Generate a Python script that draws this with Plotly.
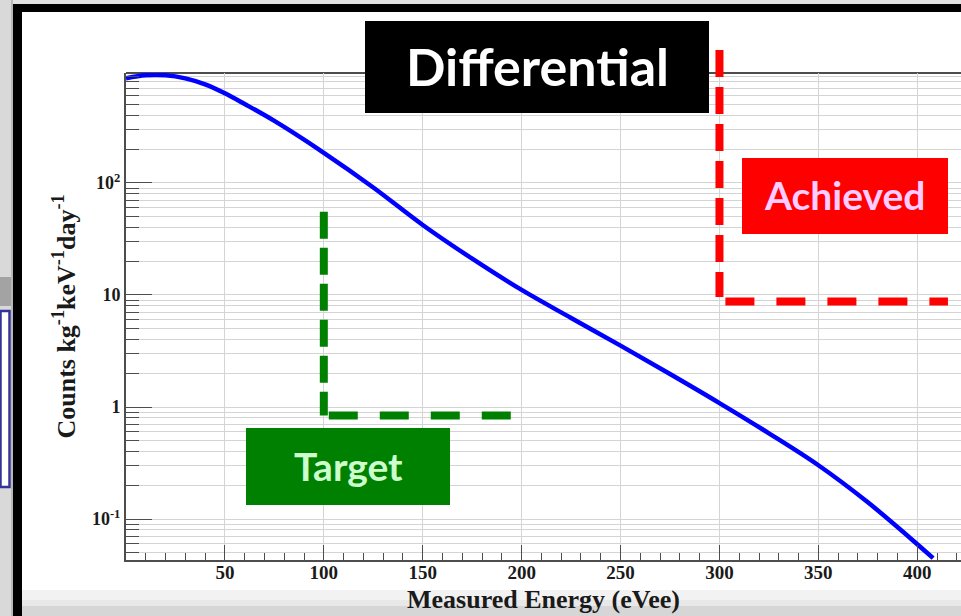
import math
import plotly.graph_objects as go

# Differential count-rate spectrum (counts / kg / keV / day) vs measured energy
energy_eVee = [0, 10, 20, 30, 40, 50, 60, 75, 100, 125, 150, 175, 200,
               225, 250, 275, 300, 325, 350, 375, 400, 408]
rate = [860, 915, 915, 860, 760, 632, 507, 358, 186, 91.2, 42.2, 21.1, 11.1,
        6.24, 3.53, 1.97, 1.084, 0.582, 0.302, 0.141, 0.0596, 0.0447]

x_tick_vals = [50, 100, 150, 200, 250, 300, 350, 400]
y_tick_vals = [0.1, 1, 10, 100]
y_tick_text = ["10<sup>-1</sup>", "1", "10", "10<sup>2</sup>"]

# Background thresholds (energy threshold, rate level, extent of the rate bar)
target_energy = 100
target_rate = 0.84
target_top = 55.5
target_end = 195
achieved_energy = 300
achieved_rate = 8.75
achieved_end = 415.5

# Figure geometry (pixels)
W, H = 961, 616
L, R, T, B = 126, 961, 73, 560
X_RANGE = [0, 422.1]
Y_RANGE = [-1.366, 2.982]   # log10 range


def fx(px):
    return (px - L) / (R - L)


def fy(py):
    return (B - py) / (B - T)


def yv(v):
    """data value on the log y axis -> paper fraction"""
    return (math.log10(v) - Y_RANGE[0]) / (Y_RANGE[1] - Y_RANGE[0])


def prect(x0, y0, x1, y1, fill, layer="below", line=None):
    return dict(type="rect", xref="paper", yref="paper",
                x0=fx(x0), x1=fx(x1), y0=fy(y0), y1=fy(y1),
                fillcolor=fill, layer=layer,
                line=line or dict(width=0))


fig = go.Figure()

fig.add_trace(go.Scatter(
    x=energy_eVee, y=rate, mode="lines",
    line=dict(color="#0000ff", width=4.5, shape="spline", smoothing=1.0),
    showlegend=False, hoverinfo="x+y",
))

serif = "Liberation Serif, Times New Roman, serif"
sans = "Lato, Open Sans, sans-serif"

minor_y = [k * 10 ** d for d in range(-2, 3) for k in range(2, 10)]

axis_line = "#4d4d4d"
grid = "#d4d4d4"

shapes = [
    # slide frame and surroundings
    prect(0, 0, 11, 616, "#d9d9d9"),
    prect(11, 0, 13, 616, "#b8b8b8"),
    prect(0, 277, 11, 306, "#a3a3a3"),
    prect(0.5, 311, 9.5, 487, "#ffffff",
          line=dict(color="#333399", width=2.5)),
    prect(13, 4, 975, 630, "#000000"),
    prect(22, 12, 975, 630, "#ffffff"),
    prect(22, 590, 975, 600, "#f2f2f2"),
    prect(22, 600, 975, 606, "#e8e8e8"),
    prect(22, 606, 975, 630, "#d6d6d6"),
    # top frame line of the plot area
    dict(type="line", xref="paper", yref="paper", x0=0, x1=1, y0=1, y1=1,
         line=dict(color=axis_line, width=2), layer="below"),
    # title and label boxes
    prect(365, 21, 709, 113, "#000000", layer="above"),
    prect(742, 158, 948, 234, "#ff0000", layer="above"),
    prect(246, 428, 450, 505, "#008000", layer="above"),
    # achieved threshold
    dict(type="line", xref="x", yref="paper",
         x0=achieved_energy, x1=achieved_energy,
         y0=fy(50), y1=yv(achieved_rate) + 4.5 / (B - T),
         line=dict(color="#ff0000", width=8, dash="27px,10px"), layer="above"),
    dict(type="line", xref="x", yref="y",
         x0=achieved_energy + 3, x1=achieved_end,
         y0=achieved_rate, y1=achieved_rate,
         line=dict(color="#ff0000", width=8, dash="29px,22px"), layer="above"),
    # target threshold
    dict(type="line", xref="x", yref="y",
         x0=target_energy, x1=target_energy,
         y0=target_top, y1=target_rate,
         line=dict(color="#008000", width=8, dash="27px,9px"), layer="above"),
    dict(type="line", xref="x", yref="y",
         x0=target_energy + 2.5, x1=target_end,
         y0=target_rate, y1=target_rate,
         line=dict(color="#008000", width=8, dash="29px,22px"), layer="above"),
]


def label(text, cx, cy, size, color, family=sans):
    return dict(text=text, xref="paper", yref="paper",
                x=fx(cx), y=fy(cy), xanchor="center", yanchor="middle",
                showarrow=False,
                font=dict(family=family, size=size, color=color, weight="bold"))


annotations = [
    label("Differential", 537, 66, 52, "#ffffff"),
    label("Achieved", 845, 195, 39, "#ffccff"),
    label("Target", 348, 466, 39, "#ccffcc"),
    # x-axis title
    label("Measured Energy (eVee)", (L + R) / 2, 599, 26, "#1a1a1a", serif),
]

fig.update_layout(
    width=W, height=H,
    margin=dict(l=L, r=W - R, t=T, b=H - B, pad=0),
    paper_bgcolor="#e2e2e2",
    plot_bgcolor="rgba(0,0,0,0)",
    shapes=shapes,
    annotations=annotations,
    xaxis=dict(
        range=X_RANGE, tickvals=x_tick_vals,
        ticks="inside", ticklen=15, tickwidth=1, tickcolor=axis_line,
        showline=True, linecolor=axis_line, linewidth=2, mirror=False,
        showgrid=True, gridcolor=grid, gridwidth=1,
        zeroline=False,
        minor=dict(tick0=0, dtick=10, ticks="inside", ticklen=7,
                   tickcolor=axis_line, showgrid=False),
        tickfont=dict(family=serif, size=19, color="#1a1a1a", weight="bold"),
        ticklabelstandoff=-6,
    ),
    yaxis=dict(
        type="log", range=Y_RANGE,
        tickvals=y_tick_vals, ticktext=y_tick_text,
        ticks="inside", ticklen=26, tickwidth=1, tickcolor=axis_line,
        showline=True, linecolor=axis_line, linewidth=2, mirror=False,
        showgrid=True, gridcolor=grid, gridwidth=1,
        zeroline=False,
        minor=dict(tickvals=minor_y, ticks="inside", ticklen=13,
                   tickcolor=axis_line, showgrid=True,
                   gridcolor=grid, gridwidth=1),
        tickfont=dict(family=serif, size=18, color="#1a1a1a", weight="bold"),
        title=dict(text="Counts kg<sup>-1</sup>keV<sup>-1</sup>day<sup>-1</sup>",
                   standoff=9,
                   font=dict(family=serif, size=26, color="#1a1a1a",
                             weight="bold")),
    ),
)

fig.write_html("out.html")
